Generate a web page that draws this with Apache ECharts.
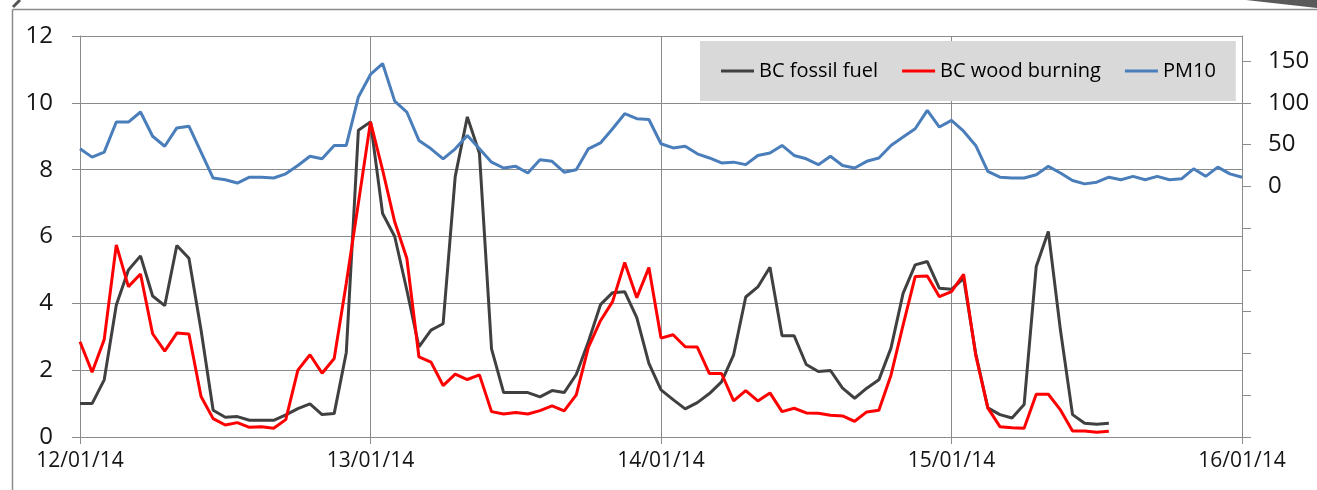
<!DOCTYPE html>
<html>
<head>
<meta charset="utf-8">
<script src="https://cdn.jsdelivr.net/npm/echarts@6/dist/echarts.min.js"></script>
<style>
  html, body { margin: 0; padding: 0; background: #fff; }
  #chart { width: 1317px; height: 490px; }
</style>
</head>
<body>
<div id="chart"></div>
<script>
// Day labels on the x axis (one every 24 hourly points)
const dayLabels = ['12/01/14', '13/01/14', '14/01/14', '15/01/14', '16/01/14'];

// Hourly categories 12/01/14 00:00 .. 16/01/14 00:00
const categories = [];
for (let i = 0; i <= 96; i++) {
  const hh = String(i % 24).padStart(2, '0');
  categories.push(dayLabels[Math.floor(i / 24)] + ' ' + hh + ':00');
}

// BC fossil fuel (left axis), hourly from 12/01/14 00:00
const bcFossil = [
  1.0, 1.0, 1.71, 3.95, 5.0, 5.42, 4.22, 3.93, 5.73, 5.35, 3.2, 0.8, 0.59, 0.61, 0.5, 0.5, 0.5, 0.66, 0.85, 0.99, 0.67, 0.7, 2.53, 9.18,
  9.43, 6.69, 6.0, 4.4, 2.7, 3.2, 3.39, 7.8, 9.58, 8.49, 2.64, 1.33, 1.33, 1.33, 1.2, 1.39, 1.33, 1.87, 2.85, 3.96, 4.32, 4.35, 3.57, 2.2,
  1.41, 1.12, 0.84, 1.03, 1.3, 1.65, 2.46, 4.19, 4.49, 5.08, 3.03, 3.03, 2.17, 1.96, 1.99, 1.46, 1.16, 1.46, 1.71, 2.66, 4.3, 5.15, 5.25, 4.45,
  4.42, 4.75, 2.5, 0.87, 0.67, 0.57, 0.97, 5.1, 6.15, 3.2, 0.67, 0.41, 0.38, 0.41
];

// BC wood burning (left axis), hourly from 12/01/14 00:00
const bcWood = [
  2.85, 1.94, 2.92, 5.75, 4.5, 4.88, 3.09, 2.57, 3.11, 3.08, 1.21, 0.55, 0.36, 0.43, 0.29, 0.31, 0.26, 0.52, 2.0, 2.46, 1.91, 2.35, 4.6, 7.0,
  9.43, 7.99, 6.44, 5.35, 2.4, 2.24, 1.54, 1.88, 1.72, 1.86, 0.76, 0.69, 0.73, 0.69, 0.79, 0.93, 0.78, 1.26, 2.68, 3.48, 4.05, 5.22, 4.17, 5.07,
  2.96, 3.06, 2.7, 2.69, 1.9, 1.9, 1.08, 1.39, 1.08, 1.32, 0.76, 0.86, 0.72, 0.71, 0.65, 0.63, 0.47, 0.75, 0.8, 1.85, 3.35, 4.8, 4.82, 4.2,
  4.35, 4.87, 2.45, 0.87, 0.31, 0.28, 0.26, 1.28, 1.28, 0.81, 0.18, 0.18, 0.14, 0.17
];

// PM10 (right axis), hourly from 12/01/14 00:00 to 16/01/14 00:00
const pm10 = [
  45, 35, 41, 77, 77, 89, 60, 48, 70, 72, 41, 10, 8, 4, 11, 11, 10, 15, 25, 36, 33, 49, 49, 107,
  134, 147, 102, 89, 55, 45, 33, 45, 61, 45, 29, 22, 24, 16, 32, 30, 17, 20, 45, 52, 69, 87, 81, 80,
  51, 46, 48, 39, 34, 28, 29, 26, 37, 40, 49, 37, 33, 26, 36, 25, 22, 30, 34, 49, 59, 69, 91, 71,
  79, 66, 49, 18, 11, 10, 10, 14, 24, 16, 7, 3, 5, 11, 8, 12, 8, 12, 8, 9, 21, 12, 23, 15, 11
];

const leftTicks = [0, 2, 4, 6, 8, 10, 12];
const rightTickValues = [-300, -250, -200, -150, -100, -50, 0, 50, 100, 150];
const rightLabelValues = [0, 50, 100, 150];

const FONT = '"Open Sans", "DejaVu Sans", sans-serif';
const GRID = '#8a8a8a';
const TEXT = '#151515';
const dayTick = (idx) => idx % 24 === 0;

const chart = echarts.init(document.getElementById('chart'), null, { renderer: 'canvas' });
chart.setOption({
  animation: false,
  backgroundColor: '#ffffff',
  textStyle: { fontFamily: FONT },
  grid: { left: 80, right: 75, top: 36, bottom: 53, containLabel: false },
  legend: {
    left: 700,
    top: 41,
    backgroundColor: '#d9d9d9',
    padding: [20, 20, 20, 21],
    icon: 'rect',
    itemWidth: 33,
    itemHeight: 3,
    itemGap: 24,
    textStyle: { fontFamily: FONT, fontSize: 20, color: '#000' },
    data: ['BC fossil fuel', 'BC wood burning', 'PM10']
  },
  xAxis: {
    type: 'category',
    boundaryGap: false,
    data: categories,
    axisLine: { lineStyle: { color: GRID, width: 1 } },
    axisTick: { show: true, interval: (i) => dayTick(i), length: 7, lineStyle: { color: GRID } },
    axisLabel: {
      interval: (i) => dayTick(i),
      formatter: (v) => v.split(' ')[0],
      fontFamily: FONT, fontSize: 21, color: TEXT, margin: 14
    },
    splitLine: { show: true, interval: (i) => dayTick(i), lineStyle: { color: GRID, width: 1 } }
  },
  yAxis: [
    {
      type: 'value',
      min: leftTicks[0],
      max: leftTicks[leftTicks.length - 1],
      interval: 2,
      position: 'left',
      axisLine: { show: true, lineStyle: { color: GRID } },
      axisTick: { show: true, length: 8, lineStyle: { color: GRID } },
      axisLabel: { fontFamily: FONT, fontSize: 24, color: TEXT, margin: 27 },
      splitLine: { show: true, lineStyle: { color: GRID, width: 1 } }
    },
    {
      type: 'value',
      min: -300,
      max: 180,
      interval: 50,
      position: 'right',
      axisLine: { show: true, lineStyle: { color: GRID } },
      axisTick: { show: true, length: 9, lineStyle: { color: GRID }, customValues: rightTickValues },
      axisLabel: {
        fontFamily: FONT, fontSize: 24, color: TEXT, margin: 26,
        customValues: rightLabelValues,
        formatter: (v) => (v >= 0 && v <= 150 ? String(v) : '')
      },
      splitLine: { show: false }
    }
  ],
  series: [
    {
      name: 'BC fossil fuel', type: 'line', yAxisIndex: 0, data: bcFossil,
      symbol: 'none', smooth: false, color: '#404040',
      lineStyle: { color: '#404040', width: 3 }
    },
    {
      name: 'BC wood burning', type: 'line', yAxisIndex: 0, data: bcWood,
      symbol: 'none', smooth: false, color: '#ff0000',
      lineStyle: { color: '#ff0000', width: 3 }
    },
    {
      name: 'PM10', type: 'line', yAxisIndex: 1, data: pm10,
      symbol: 'none', smooth: false, color: '#4a7ebb',
      lineStyle: { color: '#4a7ebb', width: 3 }
    }
  ],
  graphic: [
    { type: 'line', silent: true, shape: { x1: 12.5, y1: 9.5, x2: 1317, y2: 9.5 }, style: { stroke: '#8c8c8c', lineWidth: 1.5 } },
    { type: 'line', silent: true, shape: { x1: 12.5, y1: 9.5, x2: 12.5, y2: 490 }, style: { stroke: '#8c8c8c', lineWidth: 1.5 } },
    { type: 'line', silent: true, shape: { x1: 13, y1: 7, x2: 20, y2: 0 }, style: { stroke: '#555', lineWidth: 3 } },
    { type: 'polygon', silent: true, shape: { points: [[1246, 0], [1317, 0], [1317, 8], [1295, 5.5], [1268, 2.5]] }, style: { fill: '#5a5a5a' } }
  ]
});
</script>
</body>
</html>
